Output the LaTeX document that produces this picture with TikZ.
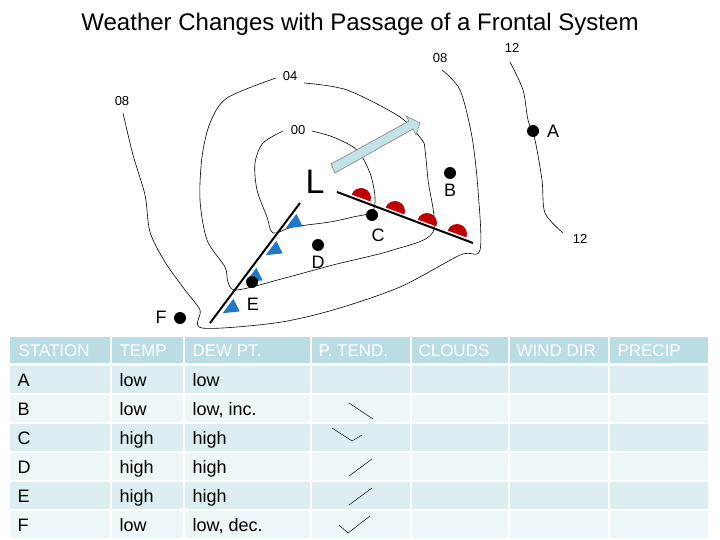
\documentclass[tikz,border=0pt]{standalone}
\usepackage{fontspec}
\setmainfont{Liberation Sans}
\begin{document}
\begin{tikzpicture}[x=1pt,y=-1pt,
  iso/.style={line width=0.6pt},
  lab/.style={font=\fontsize{13}{14}\selectfont, inner sep=1pt},
  stn/.style={circle,fill=black,inner sep=0pt,minimum size=12pt},
  slab/.style={font=\fontsize{18}{19}\selectfont, inner sep=1pt},
  ttxt/.style={anchor=base west,font=\fontsize{18}{20}\selectfont},
  htxt/.style={anchor=base west,font=\fontsize{17}{20}\selectfont,text=white}]
\definecolor{hdrc}{HTML}{B9DDE3}
\definecolor{cellA}{HTML}{DCEEF1}
\definecolor{cellB}{HTML}{EDF6F8}
\definecolor{arrc}{HTML}{C3E2E8}
\definecolor{wred}{HTML}{C00000}
\definecolor{cblue}{HTML}{1F78C8}
\useasboundingbox (0,0) rectangle (720,540);
\node[font=\fontsize{24}{26}\selectfont] (title) at (360,24) {Weather Changes with Passage of a Frontal System};
% isobars
\draw[iso] plot[smooth] coordinates {(123,113) (133,155) (145,195) (150,232) (165,262) (185,290) (200,310) (202,328) (275,323) (333,310) (400,287) (460,255) (480,250) (478,190) (472,137) (460,90) (442,70)};
\draw[iso] plot[smooth] coordinates {(276,78) (227,98) (210,123) (202,157) (200,200) (207,240) (225,267) (228,282) (237,290) (285,278) (333,265) (393,250) (433,232) (428,180) (425,150) (422,140) (400,117) (347,90) (304,83)};
\draw[iso] plot[smooth] coordinates {(283,131) (263,143) (255,163) (257,190) (267,217) (273,233) (293,227) (330,222) (353,217) (372,212) (375,197) (370,173) (357,150) (333,137) (312,131)};
\draw[iso] plot[smooth] coordinates {(510,62) (523,90) (528,120) (535,140) (542,180) (545,213) (563,233)};
\node[lab] (l08a) at (122,101) {08};
\node[lab] (l04) at (290,76) {04};
\node[lab] (l00) at (298,130) {00};
\node[lab] (l08b) at (440,58) {08};
\node[lab] (l12a) at (512,48) {12};
\node[lab] (l12b) at (580,239) {12};
% arrow
\draw[fill=arrc,draw=gray,line width=0.6pt] (331,164) -- (409,121) -- (406,116) -- (420,123) -- (416,135) -- (413,129) -- (335,173) -- cycle;
\node[font=\fontsize{34}{36}\selectfont] (L) at (315,182) {L};
% warm front
\foreach \p in {(361,198),(395,211),(427,223),(457,234)}
  \fill[wred] \p ++(200:10) arc[start angle=200,end angle=380,radius=10] -- cycle;
\draw[line width=2pt] (337,192) -- (473,243);
% cold front
\foreach \p in {(291,221),(271,248),(251,275),(228,306)}
  \fill[cblue] \p ++(5.4,-7.2) -- ++(-10.8,14.4) -- ++(17,-1.8) -- cycle;
\draw[line width=2pt] (210,323) -- (300,203);
% stations
\node[stn] (A) at (533,131) {}; \node[slab] (Al) at (553,131) {A};
\node[stn] (B) at (450,173) {}; \node[slab] (Bl) at (450,190) {B};
\node[stn] (C) at (372,215) {}; \node[slab] (Cl) at (378,235) {C};
\node[stn] (D) at (318,245) {}; \node[slab] (Dl) at (318,262) {D};
\node[stn] (E) at (252,282) {}; \node[slab] (El) at (253,304) {E};
\node[stn] (F) at (180,318) {}; \node[slab] (Fl) at (161,317) {F};
% table
\foreach \xa/\xb [count=\i] in {10/110,112/183,185/310,312/410,412/508,510/608,610/708}{
  \fill[hdrc] (\xa,337) rectangle (\xb,363);
  \foreach \ya [count=\j] in {366,395,424,453,482,511}{
    \pgfmathtruncatemacro{\odd}{mod(\j,2)}
    \ifnum\odd=1 \fill[cellA] (\xa,\ya) rectangle (\xb,\ya+27); \else \fill[cellB] (\xa,\ya) rectangle (\xb,\ya+27); \fi
  }
}
\foreach \x/\t in {15/STATION,116/TEMP,189/DEW PT.,315/P. TEND.,415/CLOUDS,513/WIND DIR,614/PRECIP}
  \node[htxt] at (\x,356) {\t};
\foreach \y/\s/\tt/\d in {386/A/low/low,415/B/low/{low, inc.},444/C/high/high,473/D/high/high,502/E/high/high,531/F/low/{low, dec.}}{
  \node[ttxt] at (14,\y) {\s};
  \node[ttxt] at (116,\y) {\tt};
  \node[ttxt] at (189,\y) {\d};
}
\draw[line width=0.5pt] (349,403) -- (373,419);
\draw[line width=0.5pt] (332,428) -- (352,441) -- (362,435);
\draw[line width=0.5pt] (349,476) -- (372,459);
\draw[line width=0.5pt] (349,505) -- (372,488);
\draw[line width=0.5pt] (339,525) -- (348,533) -- (370,516);
\end{tikzpicture}
\end{document}
